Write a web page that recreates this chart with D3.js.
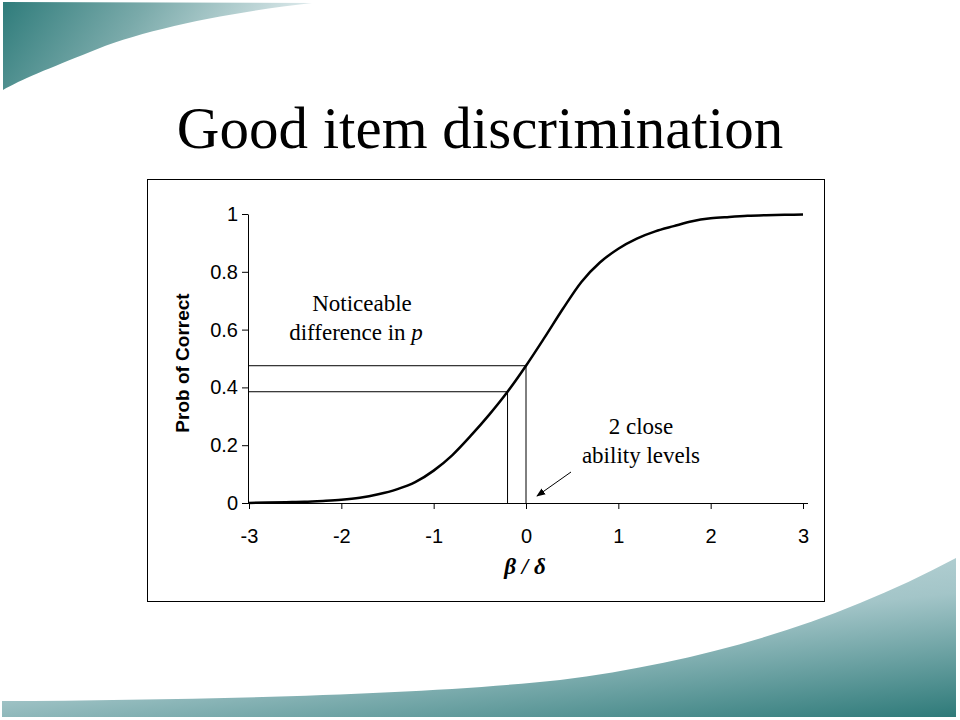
<!DOCTYPE html>
<html>
<head>
<meta charset="utf-8">
<script src="https://cdn.jsdelivr.net/npm/d3@7"></script>
<style>
  html, body { margin: 0; padding: 0; background: #fff; }
  svg { display: block; }
</style>
</head>
<body>
<svg id="chart" width="960" height="720"></svg>
<script>
// ---- data ----
const abilityX = [-3.0, -2.8, -2.6, -2.4, -2.2, -2.0, -1.8, -1.6, -1.4, -1.2, -1.0,
                  -0.8, -0.6, -0.4, -0.2, 0.0, 0.2, 0.4, 0.6, 0.8, 1.0,
                  1.2, 1.4, 1.6, 1.8, 2.0, 2.2, 2.4, 2.6, 2.8, 3.0];
const probCorrect = [0.000, 0.002, 0.003, 0.004, 0.007, 0.011, 0.018, 0.030, 0.047, 0.072, 0.112,
                     0.165, 0.232, 0.305, 0.385, 0.475, 0.572, 0.672, 0.765, 0.832, 0.880,
                     0.915, 0.940, 0.958, 0.975, 0.985, 0.990, 0.994, 0.996, 0.997, 0.998];
const xTicks = [-3, -2, -1, 0, 1, 2, 3];
const yTicks = [0, 0.2, 0.4, 0.6, 0.8, 1];
const yTickLabels = ["0", "0.2", "0.4", "0.6", "0.8", "1"];
const closeLevels = [-0.2, 0.0];           // two close ability levels
const closeProbs = [0.385, 0.475];         // their probabilities
const titleText = "Good item discrimination";
const yAxisTitle = "Prob of Correct";
const noteLeft = ["Noticeable", "difference in "];
const noteRight = ["2 close", "ability levels"];

// ---- setup ----
const svg = d3.select("#chart");
const defs = svg.append("defs");

const g1 = defs.append("linearGradient").attr("id", "gTop")
  .attr("x1", "0").attr("y1", "0").attr("x2", "1").attr("y2", "0.2");
g1.append("stop").attr("offset", "0").attr("stop-color", "#2f7c7b");
g1.append("stop").attr("offset", "0.45").attr("stop-color", "#7aaaaa");
g1.append("stop").attr("offset", "1").attr("stop-color", "#e4eef0");

const g2 = defs.append("linearGradient").attr("id", "gBot")
  .attr("x1", "0.35").attr("y1", "0").attr("x2", "1").attr("y2", "1");
g2.append("stop").attr("offset", "0").attr("stop-color", "#c6dcdf");
g2.append("stop").attr("offset", "0.45").attr("stop-color", "#a3c5c8");
g2.append("stop").attr("offset", "1").attr("stop-color", "#2e7a79");

// decorations
svg.append("path")
  .attr("d", "M3,2 L312,3 C230,12 140,30 90,52 C50,68 20,80 3,90 Z")
  .attr("fill", "url(#gTop)");
svg.append("path")
  .attr("d", "M2,701 C200,700 420,695 560,680 C700,662 830,625 956,558 L956,717 L2,717 Z")
  .attr("fill", "url(#gBot)");

// title
svg.append("text")
  .attr("x", 480).attr("y", 148)
  .attr("text-anchor", "middle")
  .attr("font-family", "'Liberation Serif', 'Times New Roman', serif")
  .attr("font-size", 59)
  .attr("fill", "#000")
  .text(titleText);

// chart frame
svg.append("rect")
  .attr("x", 147.5).attr("y", 179.5).attr("width", 677).attr("height", 422)
  .attr("fill", "#fff").attr("stroke", "#000").attr("stroke-width", 1);

// scales
const x = d3.scaleLinear().domain([-3, 3]).range([249, 803]);
const y = d3.scaleLinear().domain([0, 1]).range([503, 214]);

// axes
const xAxis = d3.axisBottom(x).tickValues(xTicks).tickSize(6).tickSizeOuter(0)
  .tickFormat(d => d3.format("d")(d).replace("−", "-"));
const gx = svg.append("g").attr("transform", `translate(0,${y(0)})`).call(xAxis);
gx.select(".domain").attr("d", `M${x(-3) - 4},0.5H${x(3) + 5}`);
gx.selectAll("text")
  .attr("font-family", "'Liberation Sans', Arial, sans-serif")
  .attr("font-size", 20).attr("fill", "#000").attr("dy", "1.55em");

const yAxis = d3.axisLeft(y).tickValues(yTicks).tickSize(6).tickSizeOuter(0)
  .tickFormat((d, i) => yTickLabels[i]);
const gy = svg.append("g").attr("transform", `translate(${x(-3) - 1},0)`).call(yAxis);
gy.selectAll("text")
  .attr("font-family", "'Liberation Sans', Arial, sans-serif")
  .attr("font-size", 20).attr("fill", "#000").attr("x", -10);
svg.selectAll(".domain, .tick line").attr("stroke", "#000");

// axis titles
svg.append("text")
  .attr("transform", "translate(189,363) rotate(-90)")
  .attr("text-anchor", "middle")
  .attr("font-family", "'Liberation Sans', Arial, sans-serif")
  .attr("font-weight", "bold").attr("font-size", 19)
  .text(yAxisTitle);

svg.append("text")
  .attr("x", 525).attr("y", 574)
  .attr("text-anchor", "middle")
  .attr("font-family", "'Liberation Serif', 'Times New Roman', serif")
  .attr("font-style", "italic").attr("font-weight", "bold").attr("font-size", 23)
  .text("β / δ");

// reference lines for two close ability levels
closeLevels.forEach((lv, i) => {
  svg.append("line")
    .attr("x1", x(lv)).attr("x2", x(lv))
    .attr("y1", y(0)).attr("y2", y(closeProbs[i]))
    .attr("stroke", "#000").attr("stroke-width", 1);
  svg.append("line")
    .attr("x1", x(-3)).attr("x2", x(lv))
    .attr("y1", y(closeProbs[i])).attr("y2", y(closeProbs[i]))
    .attr("stroke", "#000").attr("stroke-width", 1);
});

// curve
const data = abilityX.map((v, i) => ({ x: v, p: probCorrect[i] }));
svg.append("path")
  .datum(data)
  .attr("fill", "none").attr("stroke", "#000").attr("stroke-width", 2.5)
  .attr("stroke-linejoin", "round")
  .attr("d", d3.line().x(d => x(d.x)).y(d => y(d.p)).curve(d3.curveMonotoneX));

// annotations
const serif = "'Liberation Serif', 'Times New Roman', serif";
const tL = svg.append("text").attr("text-anchor", "middle")
  .attr("font-family", serif).attr("font-size", 23);
tL.append("tspan").attr("x", 362).attr("y", 311).text(noteLeft[0]);
const t2 = tL.append("tspan").attr("x", 356).attr("y", 340).text(noteLeft[1]);
t2.append("tspan").attr("font-style", "italic").text("p");

const tR = svg.append("text").attr("text-anchor", "middle")
  .attr("font-family", serif).attr("font-size", 23);
tR.append("tspan").attr("x", 641).attr("y", 434).text(noteRight[0]);
tR.append("tspan").attr("x", 641).attr("y", 463).text(noteRight[1]);

// arrow
defs.append("marker").attr("id", "arr")
  .attr("viewBox", "0 0 10 10").attr("refX", 9).attr("refY", 5)
  .attr("markerWidth", 9).attr("markerHeight", 9).attr("orient", "auto")
  .attr("markerUnits", "userSpaceOnUse")
  .append("path").attr("d", "M0,1 L10,5 L0,9 Z").attr("fill", "#000");
svg.append("line")
  .attr("x1", 571).attr("y1", 472).attr("x2", 537).attr("y2", 496)
  .attr("stroke", "#000").attr("stroke-width", 1)
  .attr("marker-end", "url(#arr)");
</script>
</body>
</html>
